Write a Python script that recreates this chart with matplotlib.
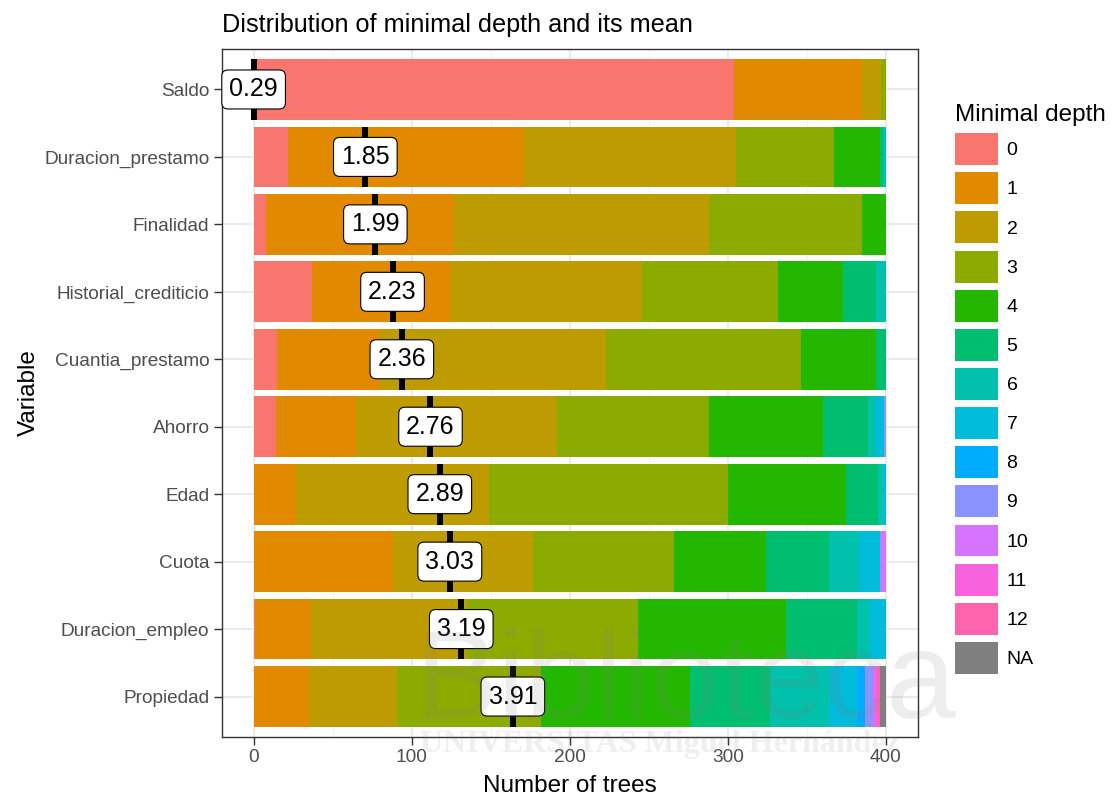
import matplotlib
matplotlib.use("Agg")
import matplotlib.pyplot as plt
from matplotlib.patches import Patch
import numpy as np

plt.rcParams['font.family'] = ['Liberation Sans', 'DejaVu Sans']

variables = ["Saldo", "Duracion_prestamo", "Finalidad", "Historial_crediticio",
             "Cuantia_prestamo", "Ahorro", "Edad", "Cuota", "Duracion_empleo", "Propiedad"]
depth_levels = ["0", "1", "2", "3", "4", "5", "6", "7", "8", "9", "10", "11", "12", "NA"]

# number of trees per minimal depth (0..12, NA) for each variable
saldo = [304, 81, 12, 3, 0, 0, 0, 0, 0, 0, 0, 0, 0, 0]
duracion_prestamo = [22, 149, 134, 62, 29, 2, 2, 0, 0, 0, 0, 0, 0, 0]
finalidad = [8, 119, 161, 97, 15, 0, 0, 0, 0, 0, 0, 0, 0, 0]
historial_crediticio = [37, 87, 122, 86, 41, 21, 6, 0, 0, 0, 0, 0, 0, 0]
cuantia_prestamo = [15, 65, 143, 123, 48, 6, 0, 0, 0, 0, 0, 0, 0, 0]
ahorro = [14, 51, 127, 96, 72, 29, 5, 5, 0, 1, 0, 0, 0, 0]
edad = [0, 27, 122, 151, 75, 20, 3, 2, 0, 0, 0, 0, 0, 0]
cuota = [0, 88, 89, 89, 58, 40, 19, 13, 0, 1, 3, 0, 0, 0]
duracion_empleo = [1, 35, 99, 108, 94, 45, 8, 10, 0, 0, 0, 0, 0, 0]
propiedad = [0, 35, 56, 91, 94, 51, 37, 18, 5, 5, 1, 2, 1, 4]

mean_depth = [0.29, 1.85, 1.99, 2.23, 2.36, 2.76, 2.89, 3.03, 3.19, 3.91]
label_span = 164  # x reached by the largest mean marker

colors = ["#F8766D", "#E18A00", "#BE9C00", "#8CAB00", "#24B700", "#00BE70", "#00C1AB",
          "#00BBDA", "#00ACFC", "#8B93FF", "#D575FE", "#F962DD", "#FF65AC", "#7F7F7F"]

counts = np.array([saldo, duracion_prestamo, finalidad, historial_crediticio, cuantia_prestamo,
                   ahorro, edad, cuota, duracion_empleo, propiedad])

fig = plt.figure(figsize=(11.12, 7.98), dpi=100)
ax = fig.add_axes([222 / 1112, 1 - 737 / 798, (917.5 - 222) / 1112, (737 - 49) / 798])

y = np.arange(len(variables))
left = np.zeros(len(variables))
for j, lev in enumerate(depth_levels):
    ax.barh(y, counts[:, j], left=left, height=0.9, color=colors[j], linewidth=0, zorder=2)
    left += counts[:, j]

mn, mx = min(mean_depth), max(mean_depth)
for i, m in enumerate(mean_depth):
    pos = (m - mn) / (mx - mn) * label_span
    ax.plot([pos, pos], [i - 0.45, i + 0.45], color="black", linewidth=4.3,
            solid_capstyle="butt", zorder=3)
    ax.text(pos, i, f"{m:.2f}", ha="center", va="center", fontsize=18, zorder=4,
            bbox=dict(boxstyle="round,pad=0.3,rounding_size=0.25", fc="white", ec="black", lw=0.8))

ax.set_xlim(-20, 420)
ax.set_ylim(len(variables) - 0.4, -0.6)
ax.set_xticks([0, 100, 200, 300, 400])
ax.set_xticks([50, 150, 250, 350], minor=True)
ax.set_yticks(y)
ax.set_yticklabels(variables)
ax.tick_params(axis="both", which="major", labelsize=13.7, labelcolor="#4D4D4D",
               color="#333333", length=6, width=1, pad=3)
ax.tick_params(axis="both", which="minor", length=0)
ax.grid(True, which="major", color="#EBEBEB", linewidth=1.4, zorder=0)
ax.grid(True, which="minor", axis="x", color="#F2F2F2", linewidth=0.8, zorder=0)
ax.set_axisbelow(True)
for s in ax.spines.values():
    s.set_color("#333333")
    s.set_linewidth(1)

ax.set_xlabel("Number of trees", fontsize=17.5, labelpad=6)
ax.set_ylabel("Variable", fontsize=17.5, labelpad=3)
ax.set_title("Distribution of minimal depth and its mean", loc="left", fontsize=18.2, pad=12)

handles = [Patch(facecolor=c, edgecolor="none") for c in colors]
leg = fig.legend(handles, depth_levels, loc="upper left", bbox_to_anchor=(955 / 1112, 1 - 104 / 798),
                 frameon=False, fontsize=14, title="Minimal depth", title_fontsize=17.5,
                 handlelength=2.2, handleheight=2.15, labelspacing=0.37, handletextpad=0.45,
                 borderpad=0, borderaxespad=0, alignment="left")

# faint watermark of the source document
fig.text(415 / 1112, 1 - 718 / 798, "Biblioteca", fontsize=90, color="#808080", alpha=0.14)
fig.text(420 / 1112, 1 - 752 / 798, "UNIVERSITAS Miguel Hernández", fontsize=23,
         fontweight="bold", family="Liberation Serif", color="#808080", alpha=0.12)

fig.savefig("out.png", dpi=100)
